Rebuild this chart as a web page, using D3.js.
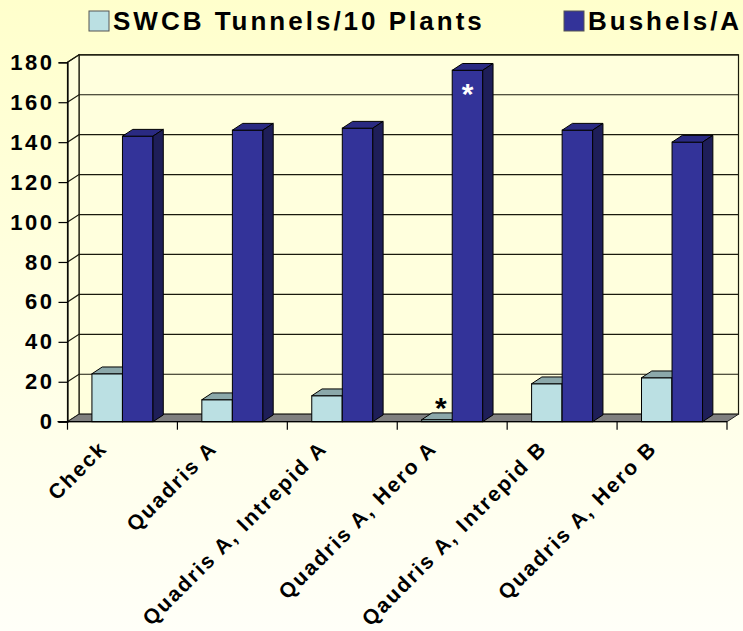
<!DOCTYPE html>
<html>
<head>
<meta charset="utf-8">
<script src="https://cdn.jsdelivr.net/npm/d3@7"></script>
<style>
  body { margin: 0; }
  svg { display: block; }
</style>
</head>
<body>
<div id="chart"></div>
<script>
// data
var categories = ["Check", "Quadris A", "Quadris A, Intrepid A", "Quadris A, Hero A", "Qaudris A, Intrepid B", "Quadris A, Hero B"];
var seriesNames = ["SWCB Tunnels/10 Plants", "Bushels/A"];
var tunnels = [24, 11, 13, 1, 19, 22];
var bushels = [143, 146, 147, 176, 146, 140];
var yTicks = [0, 20, 40, 60, 80, 100, 120, 140, 160, 180];

var W = 743, H = 631;
var font = "Arial, 'Liberation Sans', sans-serif";

var faceColors = ["#bbe0e3", "#333399"];
var topColors = ["#8ba8aa", "#2a2a82"];
var sideColors = ["#7a9597", "#1e1e58"];

var wallDx = 11.5, wallDy = -7.5; // depth of the walls
var barDx = 10.3, barDy = -6.8;   // depth of one column

var svg = d3.select("#chart").append("svg")
    .attr("width", W)
    .attr("height", H);

var defs = svg.append("defs");
var grad = defs.append("linearGradient")
    .attr("id", "bg")
    .attr("x1", 0).attr("y1", 0).attr("x2", 0).attr("y2", 1);
grad.append("stop").attr("offset", "0%").attr("stop-color", "#ffffcc");
grad.append("stop").attr("offset", "100%").attr("stop-color", "#fffff8");

svg.append("rect")
    .attr("width", W).attr("height", H)
    .attr("fill", "url(#bg)");

var x = d3.scaleBand()
    .domain(categories)
    .range([67.5, 727]);

var xs = d3.scaleBand()
    .domain(seriesNames)
    .range([0, x.bandwidth()])
    .paddingInner(0)
    .paddingOuter(0.8);

var y = d3.scaleLinear()
    .domain([0, 180])
    .range([421.7, 62.3]);

var x0 = x.range()[0], x1 = x.range()[1];
var yBase = y(0), yTop = y(180);

function pts(a) {
    return a.map(function (p) { return p.join(","); }).join(" ");
}

// back wall
svg.append("rect")
    .attr("x", x0 + wallDx)
    .attr("y", yTop + wallDy)
    .attr("width", x1 - x0)
    .attr("height", yBase - yTop)
    .attr("fill", "#ffffdd")
    .attr("stroke", "#1a1a0d")
    .attr("stroke-width", 1.2);

// side wall
svg.append("polygon")
    .attr("points", pts([[x0, yTop], [x0 + wallDx, yTop + wallDy], [x0 + wallDx, yBase + wallDy], [x0, yBase]]))
    .attr("fill", "#ffffdd")
    .attr("stroke", "#1a1a0d")
    .attr("stroke-width", 1.2);

// gridlines on back and side walls
var grid = svg.append("g").attr("class", "grid");
grid.selectAll("polyline")
    .data(yTicks.filter(function (d) { return d > 0; }))
    .enter().append("polyline")
    .attr("points", function (d) {
        return pts([[x0, y(d)], [x0 + wallDx, y(d) + wallDy], [x1 + wallDx, y(d) + wallDy]]);
    })
    .attr("fill", "none")
    .attr("stroke", "#1a1a0d")
    .attr("stroke-width", 1.2);

// floor
svg.append("polygon")
    .attr("points", pts([[x0, yBase], [x0 + wallDx, yBase + wallDy], [x1 + wallDx, yBase + wallDy], [x1, yBase]]))
    .attr("fill", "#808080")
    .attr("stroke", "#222")
    .attr("stroke-width", 1);

// columns
var rows = categories.map(function (c, i) {
    return [
        { cat: c, key: seriesNames[0], k: 0, value: tunnels[i] },
        { cat: c, key: seriesNames[1], k: 1, value: bushels[i] }
    ];
});

var col = svg.selectAll(".col")
    .data(d3.merge(rows))
    .enter().append("g")
    .attr("class", "col");

col.append("rect")
    .attr("x", function (d) { return x(d.cat) + xs(d.key); })
    .attr("y", function (d) { return y(d.value); })
    .attr("width", xs.bandwidth())
    .attr("height", function (d) { return yBase - y(d.value); })
    .attr("fill", function (d) { return faceColors[d.k]; })
    .attr("stroke", "#000")
    .attr("stroke-width", 1);

col.append("polygon")
    .attr("points", function (d) {
        var l = x(d.cat) + xs(d.key), r = l + xs.bandwidth(), t = y(d.value);
        return pts([[l, t], [l + barDx, t + barDy], [r + barDx, t + barDy], [r, t]]);
    })
    .attr("fill", function (d) { return topColors[d.k]; })
    .attr("stroke", "#000")
    .attr("stroke-width", 1);

col.append("polygon")
    .attr("points", function (d) {
        var r = x(d.cat) + xs(d.key) + xs.bandwidth(), t = y(d.value);
        return pts([[r, t], [r + barDx, t + barDy], [r + barDx, yBase + barDy], [r, yBase]]);
    })
    .attr("fill", function (d) { return sideColors[d.k]; })
    .attr("stroke", "#000")
    .attr("stroke-width", 1);

// significance marks on the Hero A pair
var heroA = categories[3];
svg.append("text")
    .attr("x", x(heroA) + xs(seriesNames[1]) + xs.bandwidth() / 2)
    .attr("y", y(bushels[3]) + 34)
    .attr("text-anchor", "middle")
    .attr("font-family", font)
    .attr("font-weight", "bold")
    .attr("font-size", 30)
    .attr("fill", "#fff")
    .text("*");
svg.append("text")
    .attr("x", x(heroA) + xs(seriesNames[0]) + xs.bandwidth() / 2 + 4)
    .attr("y", y(tunnels[3]) - 2)
    .attr("text-anchor", "middle")
    .attr("font-family", font)
    .attr("font-weight", "bold")
    .attr("font-size", 30)
    .attr("fill", "#000")
    .text("*");

// value axis
var axisY = svg.append("g")
    .attr("transform", "translate(" + x0 + ",0)")
    .call(d3.axisLeft(y).tickValues(yTicks).tickSize(9).tickPadding(4).tickFormat(d3.format("d")));
axisY.select(".domain").attr("stroke", "#000").attr("stroke-width", 1.2);
axisY.selectAll("line").attr("stroke", "#000").attr("stroke-width", 1.2);
axisY.selectAll("text")
    .attr("font-family", font)
    .attr("font-weight", "bold")
    .attr("font-size", 22)
    .attr("letter-spacing", 2.5)
    .attr("fill", "#000");

// category axis
var axisX = svg.append("g")
    .attr("transform", "translate(0," + yBase + ")");
axisX.append("line")
    .attr("x1", x0 - 10).attr("x2", x1)
    .attr("stroke", "#000").attr("stroke-width", 1.2);
axisX.selectAll(".tick")
    .data(categories.concat(["end"]))
    .enter().append("line")
    .attr("class", "tick")
    .attr("x1", function (d, i) { return x0 + i * x.step(); })
    .attr("x2", function (d, i) { return x0 + i * x.step(); })
    .attr("y1", 0).attr("y2", 8)
    .attr("stroke", "#000").attr("stroke-width", 1.2);

svg.append("g").selectAll("text")
    .data(categories)
    .enter().append("text")
    .attr("transform", function (d) {
        return "translate(" + (x(d) + x.bandwidth() / 2 - 14) + "," + (yBase + 28) + ") rotate(-45)";
    })
    .attr("text-anchor", "end")
    .attr("font-family", font)
    .attr("font-weight", "bold")
    .attr("font-size", 21)
    .attr("letter-spacing", 2)
    .attr("fill", "#000")
    .text(function (d) { return d; });

// legend
var legend = svg.append("g");
var legendItems = legend.selectAll("g")
    .data(seriesNames)
    .enter().append("g")
    .attr("transform", function (d, i) { return "translate(" + [89, 564][i] + ",11)"; });
legendItems.append("rect")
    .attr("width", 20).attr("height", 20)
    .attr("fill", function (d, i) { return faceColors[i]; })
    .attr("stroke", "#555")
    .attr("stroke-width", 1);
legendItems.append("text")
    .attr("x", 24)
    .attr("y", 19)
    .attr("font-family", font)
    .attr("font-weight", "bold")
    .attr("font-size", 26)
    .attr("letter-spacing", 3)
    .attr("fill", "#000")
    .text(function (d) { return d; });
</script>
</body>
</html>
